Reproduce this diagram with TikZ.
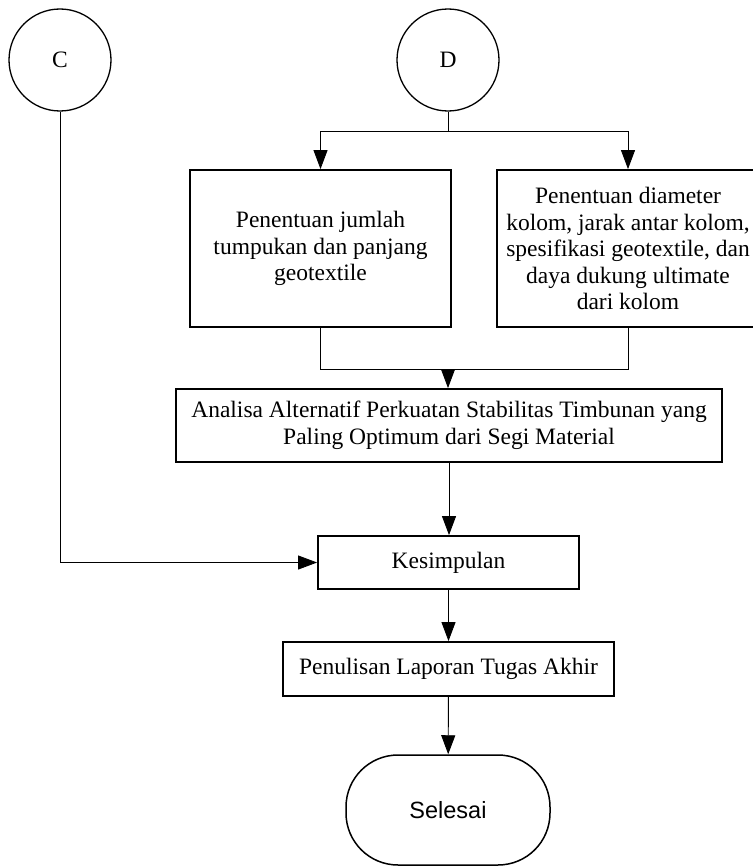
\documentclass[tikz,border=0pt]{standalone}
\usepackage{fontspec}
\setmainfont{Liberation Serif}
\newfontfamily\selfont{Liberation Sans}
\usetikzlibrary{arrows.meta,positioning,calc}

\begin{document}
\begin{tikzpicture}
[x=1pt,y=-1pt,
font=\fontsize{23.5}{26.5}\selectfont,
%
connector/.style={shape=circle,draw=black,line width=1.3pt,minimum size=102pt,inner sep=0pt},
process/.style={shape=rectangle,draw=black,line width=1.8pt,align=center,inner sep=0pt},
terminal/.style={shape=rectangle,rounded corners=52pt,draw=black,line width=1.5pt,minimum width=204pt,minimum height=110pt},
%
flow/.style={draw,line width=0.9pt,-{Triangle[length=19pt,width=14pt]}},
link/.style={draw,line width=0.9pt}]
%
\useasboundingbox (0,0) rectangle (752,867);
%
% connectors
\node (C) [connector] at (60,60) {C};
\node (D) [connector] at (448,60) {D};
%%
% process boxes
\node (jumlah) [process,minimum width=261pt,minimum height=157pt] at (320.5,248.5)
   {Penentuan jumlah\\tumpukan dan panjang\\geotextile};
\node (diameter) [process,minimum width=262pt,minimum height=157pt] at (628,248.5)
   {Penentuan diameter\\kolom, jarak antar kolom,\\spesifikasi geotextile, dan\\daya dukung ultimate\\dari kolom};
\node (analisa) [process,minimum width=546pt,minimum height=73pt] at (449,425.5)
   {Analisa Alternatif Perkuatan Stabilitas Timbunan yang\\Paling Optimum dari Segi Material};
\node (kesimpulan) [process,minimum width=261pt,minimum height=53pt] at (448.5,562.5) {Kesimpulan};
\node (laporan) [process,minimum width=331pt,minimum height=54pt] at (448.5,669) {Penulisan Laporan Tugas Akhir};
%%
% end
\node (selesai) [terminal] at (448,810) {\selfont Selesai};
%%
% branch points
\coordinate (split) at (448,131);
\coordinate (join) at (448,369);
%%
% all edges
\draw[link] (D) -- (split);
\draw[flow] (split) -| (jumlah.north);
\draw[flow] (split) -| (diameter.north);
\draw[link] (jumlah.south) |- (join);
\draw[link] (diameter.south) |- (join);
\draw[flow] (join) -- (join |- analisa.north);
\draw[flow] (analisa.south) -- (analisa.south |- kesimpulan.north);
\draw[flow] (C.south) |- (kesimpulan.west);
\draw[flow] (kesimpulan) -- (laporan);
\draw[flow] (laporan) -- (selesai);
\end{tikzpicture}
\end{document}
